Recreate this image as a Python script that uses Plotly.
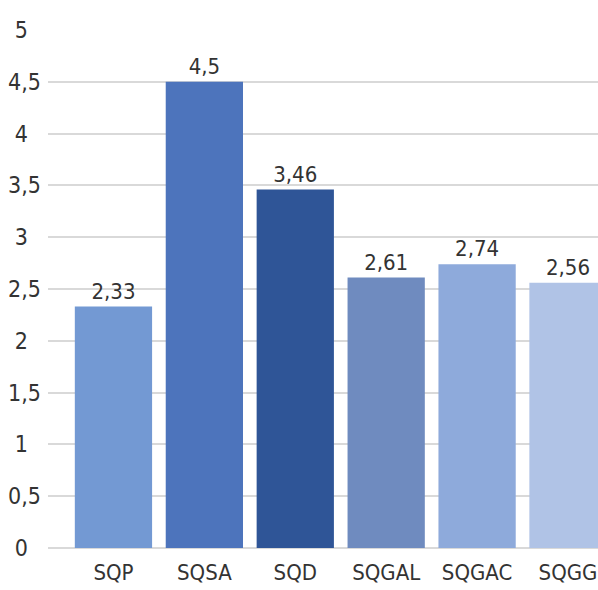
import plotly.graph_objects as go

# Scores per category
categories = ["SQP", "SQSA", "SQD", "SQGAL", "SQGAC", "SQGG"]
values = [2.33, 4.5, 3.46, 2.61, 2.74, 2.56]
value_labels = ["2,33", "4,5", "3,46", "2,61", "2,74", "2,56"]
bar_colors = ["#7399d3", "#4d74bc", "#2f5597", "#6f8bbf", "#8eaadb", "#b0c3e6"]

# Y axis ticks (comma decimal separator)
y_tickvals = [0, 0.5, 1, 1.5, 2, 2.5, 3, 3.5, 4, 4.5, 5]
y_ticktext = ["0", "0,5", "1", "1,5", "2", "2,5", "3", "3,5", "4", "4,5", "5"]

NB = "\u00a0"
# pad single-character labels so they sit centred in the label column
y_ticktext_padded = [t if len(t) > 1 else t + NB * 2 for t in y_ticktext]

FONT = "DejaVu Sans Condensed, DejaVu Sans, sans-serif"
TEXT_COLOR = "#333333"

fig = go.Figure(
    go.Bar(
        x=categories,
        y=values,
        marker=dict(color=bar_colors, line=dict(width=0)),
        text=value_labels,
        textposition="outside",
        textfont=dict(family=FONT, size=22, color=TEXT_COLOR),
        cliponaxis=False,
    )
)

fig.update_layout(
    width=598,
    height=590,
    margin=dict(l=48, r=0, t=30, b=42),
    paper_bgcolor="white",
    plot_bgcolor="white",
    showlegend=False,
    bargap=0.15,
    font=dict(family=FONT, size=22, color=TEXT_COLOR),
)

fig.update_xaxes(
    range=[-0.72, 5.33],
    showgrid=False,
    showline=False,
    zeroline=False,
    ticks="",
    ticklabelstandoff=9,
    tickfont=dict(family=FONT, size=22, color=TEXT_COLOR),
)

fig.update_yaxes(
    range=[0, 5],
    tickmode="array",
    tickvals=y_tickvals,
    ticktext=y_ticktext_padded,
    showgrid=True,
    gridcolor="#d9d9d9",
    gridwidth=2,
    zeroline=True,
    zerolinecolor="#d9d9d9",
    zerolinewidth=2,
    showline=False,
    ticks="",
    ticklabelstandoff=6,
    tickfont=dict(family=FONT, size=23, color=TEXT_COLOR),
)

fig.write_html("out.html")
